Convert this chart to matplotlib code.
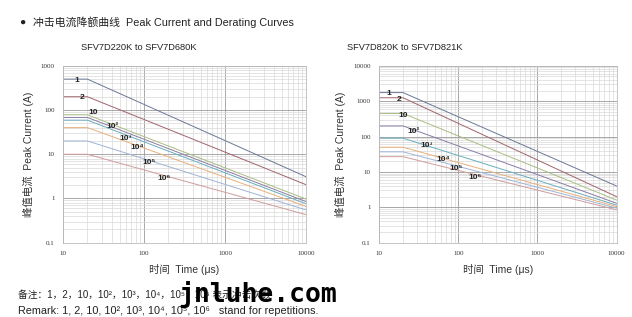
import matplotlib
matplotlib.use("Agg")
import matplotlib.pyplot as plt
from matplotlib.ticker import LogLocator, FixedLocator, FixedFormatter, NullFormatter

plt.rcParams['font.family'] = ['Liberation Sans', 'Noto Sans CJK SC', 'DejaVu Sans']

# время, мкс: плато до 20 мкс, дальше прямая в лог-лог масштабе
t = [10, 20, 10000]

labels = ["1", "2", "10", "10²", "10³", "10⁴", "10⁵", "10⁶"]
colors = ["#6a7896", "#a0646b", "#a9bd82", "#8a7ca6", "#6aaebd", "#e6b07a", "#9eb4d6", "#d09c9c"]

# левый график SFV7D220K ... SFV7D680K
left_peak = [500, 200, 78, 68, 59, 40, 20, 10]
left_end = [3.1, 2.05, 0.97, 0.85, 0.76, 0.66, 0.55, 0.43]
left_lbl_x = [14.8, 17, 23.3, 41, 60, 83, 115, 177]
left_lbl_y = [475, 189, 88, 43, 23, 14.5, 6.6, 2.9]

# правый график SFV7D820K ... SFV7D821K
right_peak = [1750, 1250, 450, 200, 90, 50, 37, 27]
right_end = [4.0, 2.0, 1.6, 1.3, 1.15, 1.05, 0.95, 0.85]
right_lbl_x = [13.3, 17.7, 20, 27, 40, 65, 95, 162]
right_lbl_y = [1660, 1150, 390, 143, 57, 22, 12.6, 6.9]

fig = plt.figure(figsize=(6.32, 3.17), dpi=100)
fig.patch.set_facecolor("white")


def draw(ax, peak, end, lx, ly, ymax):
    for i in range(len(peak)):
        ax.plot(t, [peak[i], peak[i], end[i]], color=colors[i], lw=0.7)
        ax.text(lx[i], ly[i], labels[i], fontsize=6, fontweight="bold",
                ha="center", va="center", color="#222222")
    ax.set_xscale("log")
    ax.set_yscale("log")
    ax.set_xlim(10, 10000)
    ax.set_ylim(0.1, ymax)
    ax.xaxis.set_minor_locator(LogLocator(base=10, subs=range(2, 10)))
    ax.yaxis.set_minor_locator(LogLocator(base=10, subs=range(2, 10)))
    ax.xaxis.set_minor_formatter(NullFormatter())
    ax.yaxis.set_minor_formatter(NullFormatter())
    xt = [10, 100, 1000, 10000]
    ax.xaxis.set_major_locator(FixedLocator(xt))
    ax.xaxis.set_major_formatter(FixedFormatter([str(v) for v in xt]))
    yt = [0.1, 1, 10, 100, 1000, 10000]
    yt = [v for v in yt if v <= ymax]
    ax.yaxis.set_major_locator(FixedLocator(yt))
    ax.yaxis.set_major_formatter(FixedFormatter(["0.1" if v < 1 else str(int(v)) for v in yt]))
    ax.grid(True, which="major", color="#9a9a9a", lw=0.6)
    ax.grid(True, which="minor", color="#d9d9d9", lw=0.5)
    ax.set_axisbelow(True)
    ax.tick_params(which="both", length=0, labelsize=5, pad=6, labelcolor="#333333")
    for lab in ax.get_xticklabels() + ax.get_yticklabels():
        lab.set_family("Liberation Serif")
    for s in ax.spines.values():
        s.set_color("#bbbbbb")
        s.set_linewidth(0.6)
    ax.set_xlabel("时间  Time (μs)", fontsize=7.5, color="#333333", labelpad=6)
    ax.set_ylabel("峰值电流  Peak Current (A)", fontsize=7.5, color="#333333", labelpad=5)


ax1 = fig.add_axes([0.0997, 0.2344, 0.3845, 0.558])
draw(ax1, left_peak, left_end, left_lbl_x, left_lbl_y, 1000)

ax2 = fig.add_axes([0.600, 0.2344, 0.3756, 0.558])
draw(ax2, right_peak, right_end, right_lbl_x, right_lbl_y, 10000)

# заголовки
fig.text(19 / 632, 1 - 22 / 317, "●", fontsize=7.5, va="center", color="#222222")
fig.text(33 / 632, 1 - 22 / 317, "冲击电流降额曲线  Peak Current and Derating Curves",
         fontsize=7.8, va="center", color="#222222")
fig.text(139 / 632, 1 - 47 / 317, "SFV7D220K to SFV7D680K", fontsize=6.7,
         ha="center", va="center", color="#222222")
fig.text(405 / 632, 1 - 47 / 317, "SFV7D820K to SFV7D821K", fontsize=6.7,
         ha="center", va="center", color="#222222")

# примечания внизу
fig.text(18 / 632, 1 - 295 / 317,
         "备注：1，2，10，10²，10³，10⁴，10⁵，10⁶ 表示冲击次数",
         fontsize=7, va="center", color="#222222")
fig.text(18 / 632, 1 - 311 / 317,
         "Remark: 1, 2, 10, 10², 10³, 10⁴, 10⁵, 10⁶   stand for repetitions.",
         fontsize=7.8, va="center", color="#222222")
fig.text(258 / 632, 1 - 295 / 317, "jnluhe.com", fontsize=19, fontweight="bold",
         family="DejaVu Sans Mono", ha="center", va="center", color="black")

fig.savefig("out.png", dpi=100, facecolor="white")
